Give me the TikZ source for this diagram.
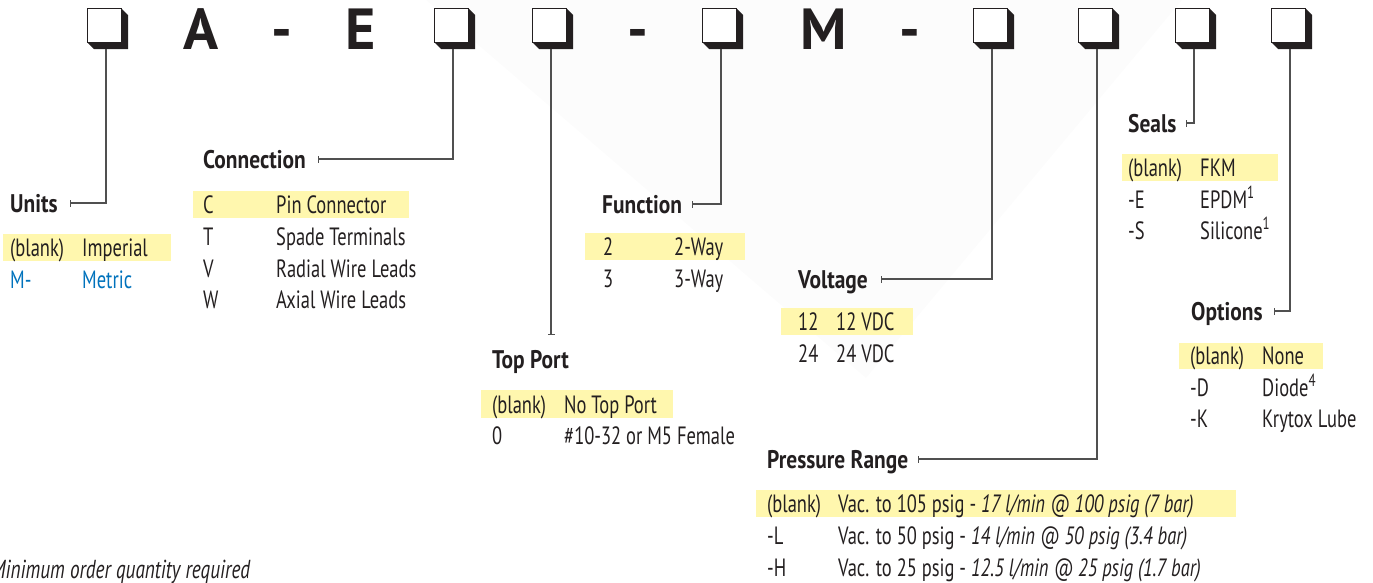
\documentclass[tikz,border=0pt]{standalone}
\usepackage{fontspec}
\setmainfont{PT Sans}[FakeStretch=0.74,BoldFeatures={FakeStretch=0.84}]
\newfontfamily\codefont{PT Sans}
\usetikzlibrary{arrows.meta}
\definecolor{ink}{RGB}{35,31,32}
\definecolor{leadgrey}{RGB}{80,80,80}
\definecolor{hilite}{RGB}{255,247,174}
\definecolor{metricblue}{RGB}{0,114,188}
\definecolor{wedge}{RGB}{252,252,252}

\begin{document}
\begin{tikzpicture}
            [
            x=1pt,y=-1pt,
            slot/.style={draw=ink,fill=white,line width=0.9pt,
                minimum size=34pt,inner sep=0pt},
            code/.style={font=\codefont\bfseries\fontsize{58}{58}\selectfont,
                text=ink,anchor=base,inner sep=0pt},
            head/.style={font=\bfseries\fontsize{25.5}{28}\selectfont,text=ink,
                anchor=base west,inner sep=0pt,text height=18pt,text depth=0pt},
            txt/.style={font=\fontsize{25}{28}\selectfont,text=ink,
                anchor=base west,inner sep=0pt},
            metric/.style={text=metricblue},
            hl/.style={fill=hilite},
            lead/.style={draw=leadgrey,line width=1.1pt,
                -{Bar[width=7pt,line width=1pt]}},
            ]
            \useasboundingbox (0,0) rectangle (1373,582);

            % Background wedge
            \fill[wedge] (426,0) -- (1182,0) -- (866,378) -- cycle;

            % Part number boxes
            \foreach \n/\x in {b1/104,b2/451,b3/549,b4/719,b5/990,b6/1095,b7/1192,b8/1288}{
                \fill[ink] (\x+17,8) -- (\x+24,15) -- (\x+24,49) -- (\x-10,49)
                    -- (\x-17,42) -- cycle;
                \node[slot] (\n) at (\x,25) {};
            }

            % Fixed letters
            \node[code] (lA) at (201,49) {A};
            \node[code] (d1) at (282,49) {-};
            \node[code] (lE) at (361,49) {E};
            \node[code] (d2) at (638,49) {-};
            \node[code] (lM) at (824,49) {M};
            \node[code] (d3) at (910,49) {-};

            % Units
            \node[head] (units) at (10,212) {Units};
            \fill[hl] (3,234) rectangle (171,261);
            \node[txt] (u1c) at (10,256) {(blank)};
            \node[txt] (u1d) at (82,256) {Imperial};
            \node[txt,metric] (u2c) at (10,288) {M-};
            \node[txt,metric] (u2d) at (82,288) {Metric};

            % Connection
            \node[head] (conn) at (203,168) {Connection};
            \fill[hl] (193,191) rectangle (409,218);
            \node[txt] (c1c) at (203,213) {C};
            \node[txt] (c1d) at (276,213) {Pin Connector};
            \node[txt] (c2c) at (203,245) {T};
            \node[txt] (c2d) at (276,245) {Spade Terminals};
            \node[txt] (c3c) at (203,277) {V};
            \node[txt] (c3d) at (276,277) {Radial Wire Leads};
            \node[txt] (c4c) at (203,308) {W};
            \node[txt] (c4d) at (276,308) {Axial Wire Leads};

            % Top port
            \node[head] (tport) at (492,368) {Top Port};
            \fill[hl] (481,390) rectangle (673,418);
            \node[txt] (t1c) at (492,413) {(blank)};
            \node[txt] (t1d) at (564,413) {No Top Port};
            \node[txt] (t2c) at (492,444) {0};
            \node[txt] (t2d) at (564,444) {\#10-32 or M5 Female};
            \coordinate (tpend) at (551,335);

            % Function
            \node[head] (func) at (602,213) {Function};
            \fill[hl] (585,233) rectangle (745,260);
            \node[txt] (f1c) at (603,255) {2};
            \node[txt] (f1d) at (674,255) {2-Way};
            \node[txt] (f2c) at (603,287) {3};
            \node[txt] (f2d) at (674,287) {3-Way};

            % Voltage
            \node[head] (volt) at (798,288) {Voltage};
            \fill[hl] (781,308) rectangle (913,335);
            \node[txt] (v1c) at (798,330) {12};
            \node[txt] (v1d) at (836,330) {12 VDC};
            \node[txt] (v2c) at (798,362) {24};
            \node[txt] (v2d) at (836,362) {24 VDC};

            % Pressure range
            \node[head] (press) at (767,468) {Pressure Range};
            \fill[hl] (756,490) rectangle (1236,517);
            \node[txt] (p1c) at (767,512) {(blank)};
            \node[txt] (p1d) at (838,512) {Vac. to 105 psig - \textit{17 l/min @ 100 psig (7 bar)}};
            \node[txt] (p2c) at (767,544) {-L};
            \node[txt] (p2d) at (838,544) {Vac. to 50 psig - \textit{14 l/min @ 50 psig (3.4 bar)}};
            \node[txt] (p3c) at (767,576) {-H};
            \node[txt] (p3d) at (838,576) {Vac. to 25 psig - \textit{12.5 l/min @ 25 psig (1.7 bar)}};

            % Seals
            \node[head] (seals) at (1128,132) {Seals};
            \fill[hl] (1122,154) rectangle (1278,181);
            \node[txt] (s1c) at (1128,176) {(blank)};
            \node[txt] (s1d) at (1200,176) {FKM};
            \node[txt] (s2c) at (1128,208) {-E};
            \node[txt] (s2d) at (1200,208) {EPDM\textsuperscript{1}};
            \node[txt] (s3c) at (1128,239) {-S};
            \node[txt] (s3d) at (1200,239) {Silicone\textsuperscript{1}};

            % Options
            \node[head] (opts) at (1191,320) {Options};
            \fill[hl] (1179,343) rectangle (1323,369);
            \node[txt] (o1c) at (1190,364) {(blank)};
            \node[txt] (o1d) at (1262,364) {None};
            \node[txt] (o2c) at (1190,396) {-D};
            \node[txt] (o2d) at (1262,396) {Diode\textsuperscript{4}};
            \node[txt] (o3c) at (1190,427) {-K};
            \node[txt] (o3d) at (1262,427) {Krytox Lube};

            % Leads
            \draw[lead] ([xshift=2pt,yshift=-7pt]b1.south) |- ([xshift=12pt]units.east);
            \draw[lead] ([xshift=2pt,yshift=-7pt]b2.south) |- ([xshift=12pt]conn.east);
            \draw[lead] ([xshift=2pt,yshift=-7pt]b3.south) -- (tpend);
            \draw[lead] ([xshift=2pt,yshift=-7pt]b4.south) |- ([xshift=10pt]func.east);
            \draw[lead] ([xshift=2pt,yshift=-7pt]b5.south) |- ([xshift=13pt]volt.east);
            \draw[lead] ([xshift=2pt,yshift=-7pt]b6.south) |- ([xshift=10pt]press.east);
            \draw[lead] ([xshift=2pt,yshift=-7pt]b7.south) |- ([xshift=9pt]seals.east);
            \draw[lead] ([xshift=2pt,yshift=-7pt]b8.south) |- ([xshift=11pt]opts.east);

            % Footnote
            \node[txt,font=\itshape\fontsize{26}{28}\selectfont] (note) at (-9,578)
                {Minimum order quantity required};

        \end{tikzpicture}
\end{document}
